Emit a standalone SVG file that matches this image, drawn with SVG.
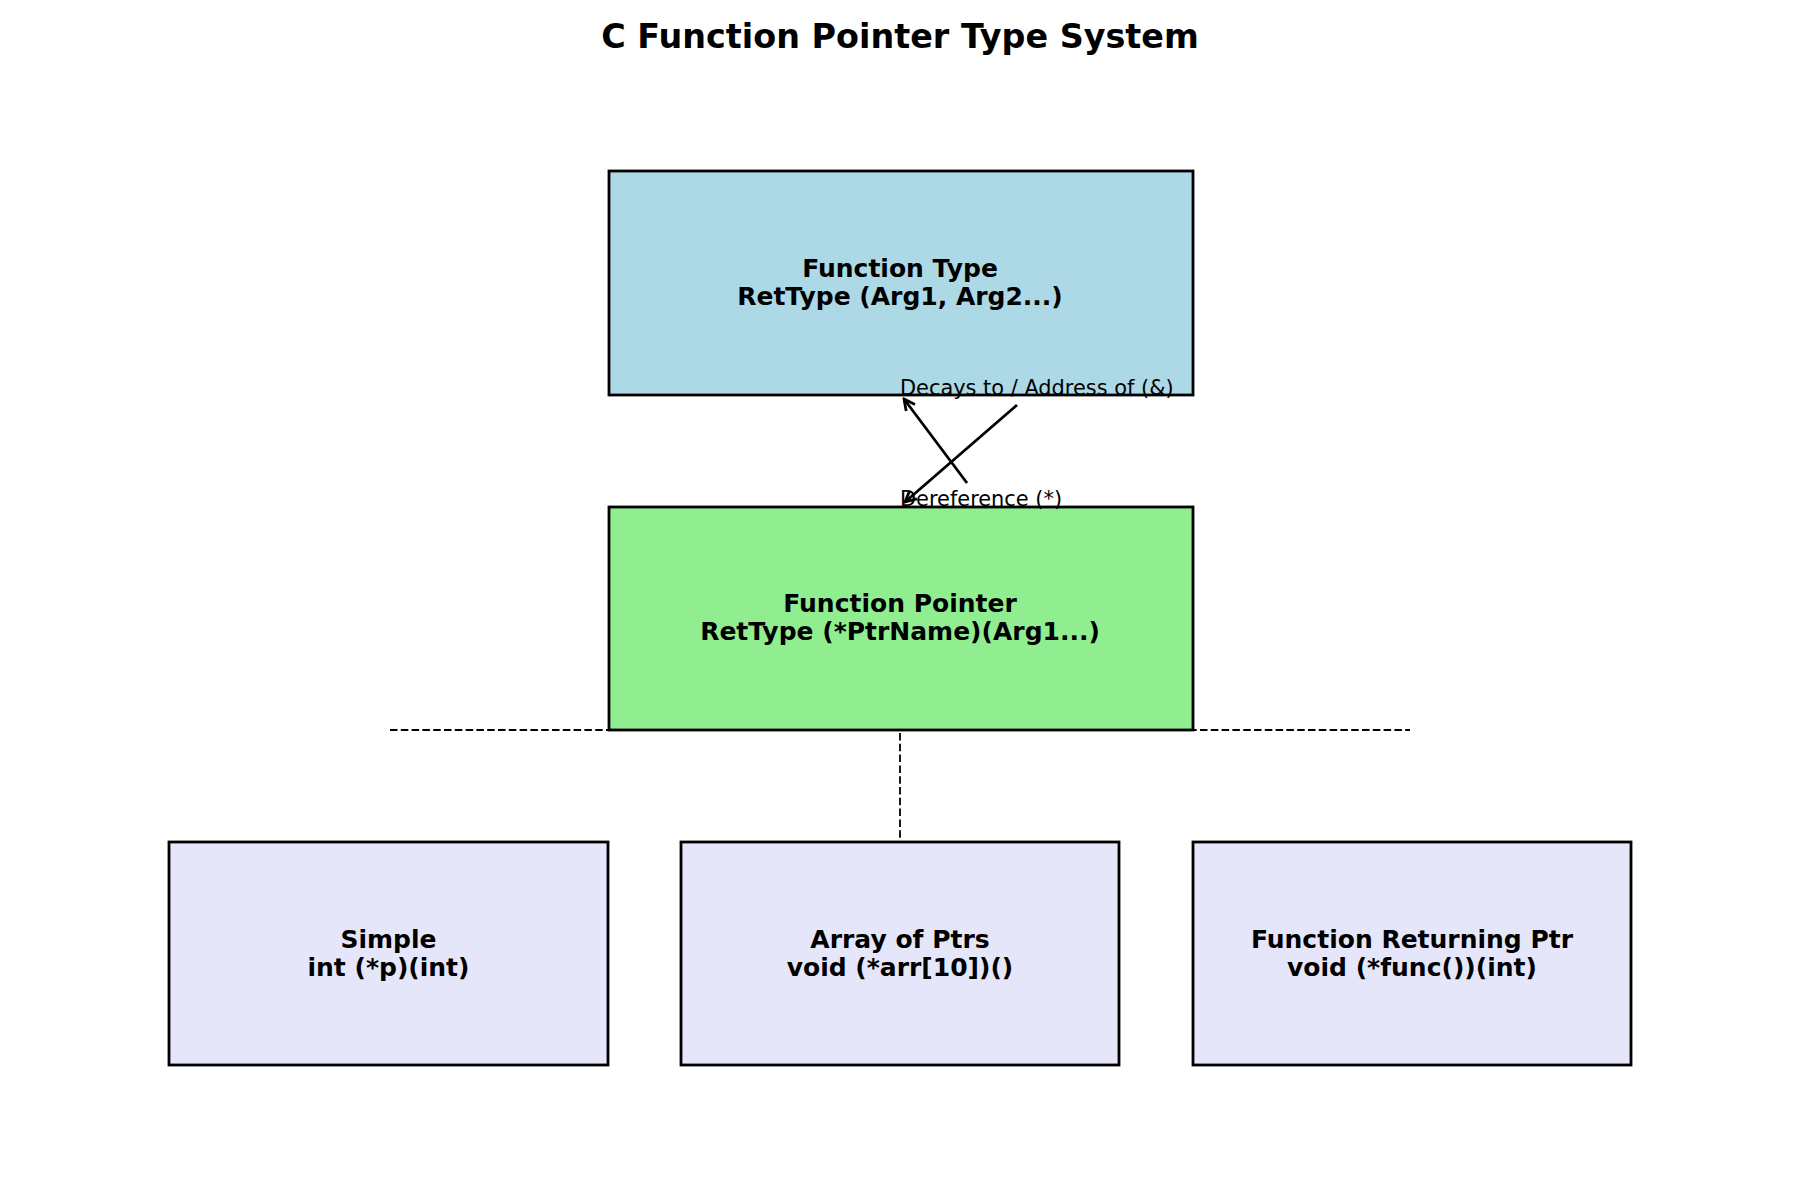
<svg xmlns="http://www.w3.org/2000/svg" width="1800" height="1200" viewBox="0 0 1800 1200">
  <style>
    .box { stroke: #000; stroke-width: 2.8; }
    .ntext { font-family: "DejaVu Sans", sans-serif; font-weight: bold; font-size: 25px; text-anchor: middle; fill: #000; }
    .title { font-family: "DejaVu Sans", sans-serif; font-weight: bold; font-size: 33.4px; text-anchor: middle; fill: #000; }
    .label { font-family: "DejaVu Sans", sans-serif; font-size: 20.9px; fill: #000; }
    .dash { stroke: #000; stroke-width: 1.8; stroke-dasharray: 7.5 3.3; fill: none; }
    .arrow { stroke: #000; stroke-width: 2.8; fill: none; }
  </style>
  <defs>
    <marker id="head" markerUnits="userSpaceOnUse" viewBox="-13 -7 15 14" refX="0" refY="0" markerWidth="15" markerHeight="14" orient="auto">
      <path d="M -11 -5.5 L 0 0 L -11 5.5" fill="none" stroke="#000" stroke-width="2.8"/>
    </marker>
  </defs>
  <rect width="1800" height="1200" fill="#fff"/>
  <text class="title" x="900" y="48">C Function Pointer Type System</text>

  <g id="connectors">
    <line class="dash" x1="390" y1="730" x2="1410" y2="730"/>
    <line class="dash" x1="900" y1="733" x2="900" y2="840"/>
    <line class="arrow" x1="967" y1="483" x2="904" y2="399" marker-end="url(#head)"/>
    <line class="arrow" x1="1017" y1="405" x2="905" y2="502" marker-end="url(#head)"/>
  </g>

  <g id="node-function-type">
    <rect class="box" x="609" y="171" width="584" height="224" fill="#ADD8E6"/>
    <text class="ntext" x="900" y="276.5">Function Type</text>
    <text class="ntext" x="900" y="304.5">RetType (Arg1, Arg2...)</text>
  </g>

  <g id="node-function-pointer">
    <rect class="box" x="609" y="507" width="584" height="223" fill="#90EE90"/>
    <text class="ntext" x="900" y="611.5">Function Pointer</text>
    <text class="ntext" x="900" y="639.5">RetType (*PtrName)(Arg1...)</text>
  </g>

  <g id="label-decays">
    <text class="label" x="900" y="395">Decays to / Address of (&amp;)</text>
  </g>
  <g id="label-deref">
    <text class="label" x="900" y="506">Dereference (*)</text>
  </g>

  <g id="node-simple">
    <rect class="box" x="169" y="842" width="439" height="223" fill="#E6E6FA"/>
    <text class="ntext" x="388.5" y="948">Simple</text>
    <text class="ntext" x="388.5" y="976">int (*p)(int)</text>
  </g>

  <g id="node-array">
    <rect class="box" x="681" y="842" width="438" height="223" fill="#E6E6FA"/>
    <text class="ntext" x="900" y="948">Array of Ptrs</text>
    <text class="ntext" x="900" y="976">void (*arr[10])()</text>
  </g>

  <g id="node-func-returning">
    <rect class="box" x="1193" y="842" width="438" height="223" fill="#E6E6FA"/>
    <text class="ntext" x="1412" y="948">Function Returning Ptr</text>
    <text class="ntext" x="1412" y="976">void (*func())(int)</text>
  </g>
</svg>
